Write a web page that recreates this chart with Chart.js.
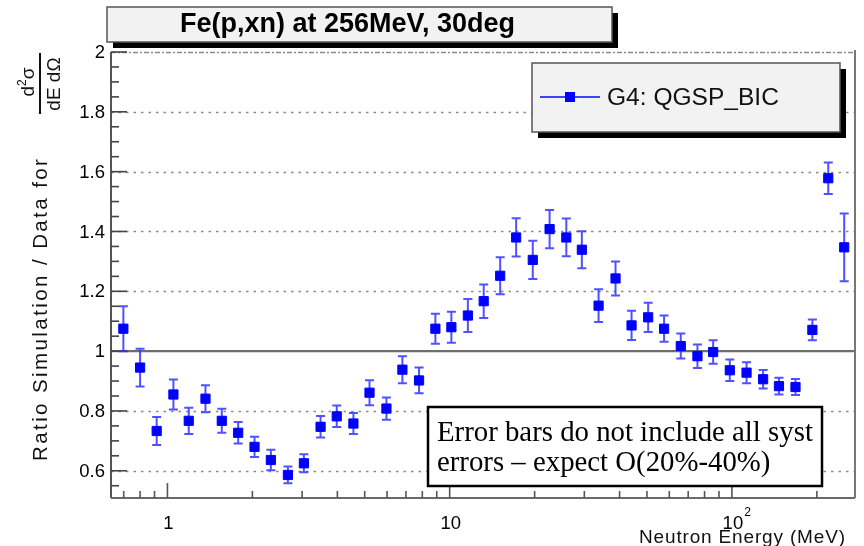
<!DOCTYPE html>
<html>
<head>
<meta charset="utf-8">
<script src="https://cdn.jsdelivr.net/npm/chart.js@4.4.1/dist/chart.umd.min.js"></script>
<style>
html,body{margin:0;padding:0;background:#fff;}
canvas{display:block;}
</style>
</head>
<body>
<canvas id="c" width="864" height="546"></canvas>
<script>
// ---- data ----
const energies = [0.698,0.80,0.916,1.05,1.19,1.364,1.558,1.781,2.035,2.325,2.672,3.044,3.488,3.98,4.56,5.2,5.97,6.8,7.79,8.9,
  10.14,11.6,13.2,15.1,17.2,19.7,22.6,25.9,29.4,33.7,38.7,44.1,50.5,57.5,65.9,75.5,85.8,98.3,112.7,129,146.8,168,192.8,219.5,250];
const ratio = [1.075,0.945,0.733,0.855,0.767,0.841,0.767,0.727,0.68,0.636,0.586,0.625,0.747,0.782,0.758,0.861,0.808,0.938,0.902,1.075,
  1.08,1.119,1.167,1.252,1.38,1.305,1.408,1.38,1.339,1.152,1.243,1.086,1.113,1.075,1.017,0.983,0.997,0.936,0.928,0.906,0.883,0.88,1.071,1.578,1.347];
const errors = [0.075,0.063,0.047,0.05,0.044,0.045,0.04,0.036,0.034,0.034,0.028,0.03,0.036,0.036,0.035,0.042,0.037,0.045,0.043,0.05,
  0.052,0.055,0.056,0.062,0.064,0.064,0.064,0.063,0.062,0.055,0.057,0.049,0.049,0.044,0.042,0.039,0.039,0.036,0.035,0.031,0.028,0.027,0.035,0.053,0.113];
const yTickValues = [0.6,0.8,1,1.2,1.4,1.6,1.8,2];
const yTickLabels = ['0.6','0.8','1','1.2','1.4','1.6','1.8','2'];
const xTickValues = [1,10,100];
const xTickLabels = ['1','10','10'];
const xTickExponents = ['','','2'];
const seriesName = 'G4: QGSP_BIC';
const titleText = 'Fe(p,xn) at 256MeV, 30deg';
const xTitle = 'Neutron Energy (MeV)';
const yTitle = 'Ratio Simulation / Data for';
const noteLines = ['Error bars do not include all syst', 'errors \u2013 expect O(20%-40%)'];

const X_MIN = 0.631, X_MAX = 273, Y_MIN = 0.509, Y_MAX = 2.0;
const SANS = '"Liberation Sans", Arial, sans-serif';
const SERIF = '"Liberation Serif", "Times New Roman", serif';

function fitFont(ctx, text, weight, family, target) {
  ctx.font = weight + ' 100px ' + family;
  const w = ctx.measureText(text).width;
  const size = 100 * target / w;
  return weight + ' ' + size.toFixed(2) + 'px ' + family;
}
function spacedText(ctx, text, font, target, x, y) {
  ctx.font = font;
  ctx.letterSpacing = '0px';
  const w = ctx.measureText(text).width;
  const sp = (target - w) / Math.max(1, text.length - 1);
  ctx.letterSpacing = sp.toFixed(2) + 'px';
  ctx.fillText(text, x, y);
  ctx.letterSpacing = '0px';
}

const decorPlugin = {
  id: 'decor',
  beforeDatasetsDraw(chart) {
    const ctx = chart.ctx;
    const a = chart.chartArea;
    const xs = chart.scales.x, ys = chart.scales.y;
    ctx.save();
    // dotted horizontal grid
    ctx.strokeStyle = '#8a8a8a';
    ctx.lineWidth = 1.6;
    yTickValues.forEach(v => {
      if (v === 1) return;
      const py = Math.round(ys.getPixelForValue(v)) + 0.5;
      ctx.setLineDash(v === 2 ? [5, 2, 2, 2] : [2.5, 5]);
      ctx.beginPath(); ctx.moveTo(a.left, py); ctx.lineTo(a.right, py); ctx.stroke();
    });
    ctx.setLineDash([]);
    // solid line at 1
    const p1 = ys.getPixelForValue(1);
    ctx.strokeStyle = '#6e6e6e'; ctx.lineWidth = 2.2;
    ctx.beginPath(); ctx.moveTo(a.left, p1); ctx.lineTo(a.right, p1); ctx.stroke();
    // frame: left, bottom, right
    ctx.strokeStyle = '#555'; ctx.lineWidth = 2;
    ctx.beginPath(); ctx.moveTo(a.left, a.top); ctx.lineTo(a.left, a.bottom); ctx.stroke();
    ctx.strokeStyle = '#6a6a6a';
    ctx.beginPath(); ctx.moveTo(a.left, a.bottom); ctx.lineTo(a.right, a.bottom); ctx.stroke();
    ctx.strokeStyle = '#777';
    ctx.beginPath(); ctx.moveTo(a.right, a.top - 2); ctx.lineTo(a.right, a.bottom); ctx.stroke();
    // y ticks (major every 0.2, minor every 0.05)
    ctx.strokeStyle = '#444'; ctx.lineWidth = 1.6;
    for (let k = 11; k <= 40; k++) {
      const v = k * 0.05;
      if (v < Y_MIN || v > Y_MAX + 1e-9) continue;
      const py = ys.getPixelForValue(v);
      const major = (k % 4 === 0);
      ctx.beginPath(); ctx.moveTo(a.left, py); ctx.lineTo(a.left + (major ? 16 : 8), py); ctx.stroke();
    }
    // x ticks (log decades)
    ctx.strokeStyle = '#555';
    [0.1, 1, 10, 100].forEach(dec => {
      for (let m = 1; m <= 9; m++) {
        const v = dec * m;
        if (v < X_MIN || v > X_MAX) continue;
        const px = xs.getPixelForValue(v);
        const len = m === 1 ? 15 : 7;
        ctx.beginPath(); ctx.moveTo(px, a.bottom); ctx.lineTo(px, a.bottom - len); ctx.stroke();
      }
    });
    // error bars
    ctx.strokeStyle = 'rgba(50,50,255,0.85)'; ctx.lineWidth = 2;
    energies.forEach((e, i) => {
      const px = xs.getPixelForValue(e);
      const top = ys.getPixelForValue(ratio[i] + errors[i]);
      const bot = ys.getPixelForValue(ratio[i] - errors[i]);
      ctx.beginPath();
      ctx.moveTo(px, top); ctx.lineTo(px, bot);
      ctx.moveTo(px - 4.5, top); ctx.lineTo(px + 4.5, top);
      ctx.moveTo(px - 4.5, bot); ctx.lineTo(px + 4.5, bot);
      ctx.stroke();
    });
    ctx.restore();
  },
  afterDraw(chart) {
    const ctx = chart.ctx;
    const xs = chart.scales.x, ys = chart.scales.y;
    ctx.save();
    ctx.fillStyle = '#000';
    // y tick labels
    ctx.font = '18.5px ' + SANS;
    ctx.textAlign = 'right'; ctx.textBaseline = 'middle';
    yTickValues.forEach((v, i) => {
      ctx.fillText(yTickLabels[i], 105, ys.getPixelForValue(v) + 1);
    });
    // x tick labels
    ctx.textAlign = 'center'; ctx.textBaseline = 'alphabetic';
    xTickValues.forEach((v, i) => {
      const px = xs.getPixelForValue(v);
      ctx.font = '18.5px ' + SANS;
      ctx.fillText(xTickLabels[i], px + 1, 529);
      if (xTickExponents[i]) {
        const w = ctx.measureText(xTickLabels[i]).width;
        ctx.font = '12px ' + SANS;
        ctx.textAlign = 'left';
        ctx.fillText(xTickExponents[i], px + w / 2 + 2, 516);
        ctx.textAlign = 'center';
      }
    });
    // x title
    ctx.textAlign = 'left';
    ctx.fillStyle = '#111';
    spacedText(ctx, xTitle, '19px ' + SANS, 206, 639, 543);
    // y title (rotated)
    ctx.save();
    ctx.translate(47, 461);
    ctx.rotate(-Math.PI / 2);
    ctx.textAlign = 'left';
    spacedText(ctx, yTitle, '20.5px ' + SANS, 302, 0, 0);
    ctx.restore();
    // fraction d2sigma / dE dOmega
    ctx.save();
    ctx.translate(60, 84);
    ctx.rotate(-Math.PI / 2);
    ctx.textAlign = 'center';
    ctx.font = '19px ' + SANS;
    ctx.fillText('dE d\u03A9', 0, 0);
    ctx.restore();
    ctx.save();
    ctx.translate(34, 82);
    ctx.rotate(-Math.PI / 2);
    ctx.textAlign = 'left';
    ctx.font = '19px ' + SANS;
    const wd = ctx.measureText('d').width;
    const ws = ctx.measureText('\u03C3').width;
    ctx.font = '12px ' + SANS;
    const w2 = ctx.measureText('2').width;
    const tot = wd + w2 + ws;
    ctx.font = '19px ' + SANS;
    ctx.fillText('d', -tot / 2, 0);
    ctx.font = '12px ' + SANS;
    ctx.fillText('2', -tot / 2 + wd, -8);
    ctx.font = '19px ' + SANS;
    ctx.fillText('\u03C3', -tot / 2 + wd + w2, 0);
    ctx.restore();
    ctx.strokeStyle = '#111'; ctx.lineWidth = 2;
    ctx.beginPath(); ctx.moveTo(40, 53); ctx.lineTo(40, 114); ctx.stroke();

    // title box
    ctx.fillStyle = '#000';
    ctx.fillRect(113, 13, 505, 35);
    ctx.fillStyle = '#f2f2f2';
    ctx.fillRect(107, 7, 505, 35);
    ctx.strokeStyle = '#555'; ctx.lineWidth = 1.5;
    ctx.strokeRect(107, 7, 505, 35);
    ctx.fillStyle = '#000';
    ctx.textAlign = 'left';
    ctx.font = fitFont(ctx, titleText, 'bold', SANS, 335);
    ctx.fillText(titleText, 180, 32);

    // legend box
    ctx.fillStyle = '#000';
    ctx.fillRect(538, 69, 308, 69);
    ctx.fillStyle = '#f2f2f2';
    ctx.fillRect(532, 63, 308, 69);
    ctx.strokeStyle = '#555'; ctx.lineWidth = 1.5;
    ctx.strokeRect(532, 63, 308, 69);
    ctx.strokeStyle = '#4040ff'; ctx.lineWidth = 2;
    ctx.beginPath(); ctx.moveTo(540, 97); ctx.lineTo(600, 97); ctx.stroke();
    ctx.fillStyle = '#0000ff';
    ctx.fillRect(565, 92, 10, 10);
    ctx.fillStyle = '#111';
    ctx.font = fitFont(ctx, seriesName, 'normal', SANS, 172);
    ctx.fillText(seriesName, 607, 105);

    // note box
    ctx.fillStyle = '#fff';
    ctx.fillRect(428, 407, 394, 79);
    ctx.strokeStyle = '#000'; ctx.lineWidth = 2.5;
    ctx.strokeRect(428, 407, 394, 79);
    ctx.fillStyle = '#000';
    ctx.font = fitFont(ctx, noteLines[0], 'normal', SERIF, 376);
    ctx.fillText(noteLines[0], 437, 441);
    ctx.fillText(noteLines[1], 437, 471);
    ctx.restore();
  }
};

new Chart(document.getElementById('c'), {
  type: 'scatter',
  data: {
    datasets: [{
      label: seriesName,
      data: energies.map((e, i) => ({ x: e, y: ratio[i] })),
      pointStyle: 'rect',
      pointRadius: 6.5,
      pointBorderWidth: 1,
      backgroundColor: '#0000ff',
      borderColor: '#0000ff',
      showLine: false
    }]
  },
  options: {
    responsive: false,
    animation: false,
    devicePixelRatio: 1,
    layout: { padding: { top: 52, right: 9, left: 0, bottom: 0 } },
    plugins: { legend: { display: false }, tooltip: { enabled: false } },
    scales: {
      x: {
        type: 'logarithmic', min: X_MIN, max: X_MAX, bounds: 'data',
        ticks: { display: false }, grid: { display: false }, border: { display: false },
        afterFit: s => { s.height = 48; }
      },
      y: {
        type: 'linear', min: Y_MIN, max: Y_MAX, bounds: 'data',
        ticks: { display: false }, grid: { display: false }, border: { display: false },
        afterFit: s => { s.width = 111; }
      }
    }
  },
  plugins: [decorPlugin]
});
</script>
</body>
</html>
